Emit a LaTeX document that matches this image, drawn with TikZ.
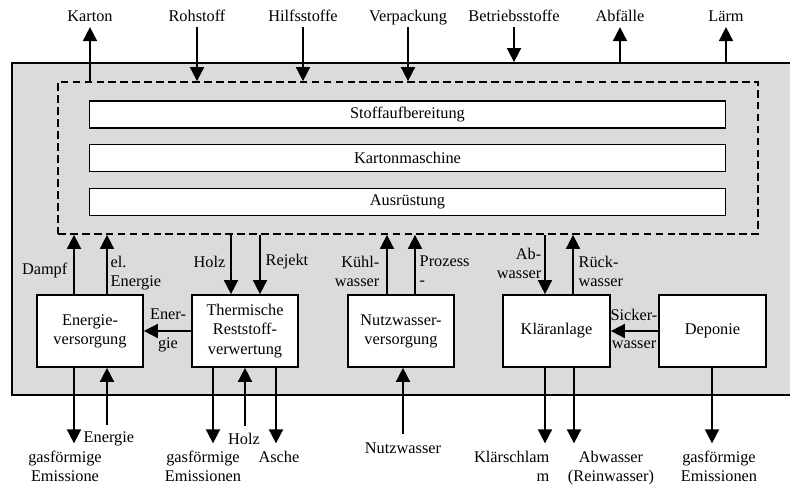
\documentclass[tikz,border=0pt]{standalone}
\usepackage{fontspec}
\setmainfont{Liberation Serif}
\usetikzlibrary{arrows.meta}

\begin{document}
\begin{tikzpicture}[
  x=0.025cm, y=-0.025cm,
  every node/.style={font=\fontsize{11.6}{13.6}\selectfont},
  unit/.style={rectangle, draw, line width=1.2pt, fill=white, minimum width=2.65cm, minimum height=1.8cm, align=center, inner sep=1pt},
  stage/.style={rectangle, draw, line width=1.2pt, fill=white, minimum width=15.9cm, minimum height=0.675cm, inner sep=0pt},
  flow/.style={-{Triangle[width=10pt,length=10pt]}, line width=1.2pt},
  tag/.style={inner sep=1pt, text height=8pt, text depth=2.5pt},
  lbl/.style={inner sep=1pt},
]
  \useasboundingbox (0,0) rectangle (790,487);

  % Betrieb und Werk
  \node[draw, line width=1.2pt, fill=black!14, minimum width=19.5cm, minimum height=8.3cm] (betrieb) at (402,229) {};
  \node[draw, line width=1.2pt, dash pattern=on 5.5pt off 3pt, minimum width=17.5cm, minimum height=3.8cm] (werk) at (408,158) {};

  \node[stage] (stoff) at (407.5,114.5) {Stoffaufbereitung};
  \node[stage] (karma) at (407.5,158) {Kartonmaschine};
  \node[stage] (ausr) at (407.5,202) {Ausrüstung};

  % Nebenanlagen
  \node[unit] (ener) at (90,331) {Energie-\\versorgung};
  \node[unit] (therm) at (245,331) {Thermische\\Reststoff-\\verwertung};
  \node[unit] (nutz) at (401,331) {Nutzwasser-\\versorgung};
  \node[unit, minimum width=2.675cm] (klaer) at (556.5,331) {Kläranlage};
  \node[unit, minimum width=2.675cm] (depo) at (712.5,331) {Deponie};

  % oben
  \node[tag] (lKarton) at (90,18) {Karton};
  \node[tag] (lRoh) at (197,18) {Rohstoff};
  \node[tag] (lHilf) at (303,18) {Hilfsstoffe};
  \node[tag] (lVerp) at (408,18) {Verpackung};
  \node[tag] (lBetr) at (514,18) {Betriebsstoffe};
  \node[tag] (lAbf) at (620,18) {Abfälle};
  \node[tag] (lLaerm) at (726,18) {Lärm};

  \draw[flow] (90,0 |- werk.north) -- (90,0 |- lKarton.south);
  \draw[flow] (197,0 |- lRoh.south) -- (197,0 |- werk.north);
  \draw[flow] (303,0 |- lHilf.south) -- (303,0 |- werk.north);
  \draw[flow] (408,0 |- lVerp.south) -- (408,0 |- werk.north);
  \draw[flow] (514,0 |- lBetr.south) -- (514,0 |- betrieb.north);
  \draw[flow] (620,0 |- betrieb.north) -- (620,0 |- lAbf.south);
  \draw[flow] (726,0 |- betrieb.north) -- (726,0 |- lLaerm.south);

  % Mitte
  \draw[flow] (74,0 |- ener.north) -- (74,0 |- werk.south);
  \draw[flow] (107,0 |- ener.north) -- (107,0 |- werk.south);
  \draw[flow] (231,0 |- werk.south) -- (231,0 |- therm.north);
  \draw[flow] (260,0 |- werk.south) -- (260,0 |- therm.north);
  \draw[flow] (387,0 |- nutz.north) -- (387,0 |- werk.south);
  \draw[flow] (415,0 |- nutz.north) -- (415,0 |- werk.south);
  \draw[flow] (545,0 |- werk.south) -- (545,0 |- klaer.north);
  \draw[flow] (573,0 |- klaer.north) -- (573,0 |- werk.south);
  \draw[flow] (therm.west) -- (ener.east);
  \draw[flow] (depo.west) -- (klaer.east);

  \node[lbl, anchor=east] (lDampf) at (69,270) {Dampf};
  \node[lbl, anchor=west, align=left] (lElEn) at (109,273) {el.\\Energie};
  \node[lbl, anchor=east] (lHolzA) at (227,262) {Holz};
  \node[lbl, anchor=west] (lRejekt) at (264,262) {Rejekt};
  \node[lbl, anchor=east, align=right] (lKuehl) at (381,271) {Kühl-\\wasser};
  \node[lbl, anchor=west, align=left] (lProz) at (418,271) {Prozess\\-};
  \node[lbl, anchor=east, align=right] (lAbwA) at (543,263) {Ab-\\wasser};
  \node[lbl, anchor=west, align=left] (lRueck) at (577,271) {Rück-\\wasser};
  \node[lbl, align=center] (lEner) at (168,330) {Ener-\\[7pt]gie};
  \node[lbl, align=center] (lSicker) at (634,329) {Sicker-\\[6pt]wasser};

  % unten
  \node[lbl, anchor=north, align=center] (lEmiA) at (65,449) {gasförmige\\Emissione};
  \node[lbl, anchor=west] (lEnergieB) at (82,439) {Energie};
  \node[lbl, anchor=north, align=center] (lEmiB) at (203,449) {gasförmige\\Emissionen};
  \node[lbl] (lHolzB) at (244,439) {Holz};
  \node[lbl, anchor=north] (lAsche) at (279,449) {Asche};
  \node[lbl] (lNutz) at (403,448) {Nutzwasser};
  \node[lbl, anchor=north east, align=right] (lSchlamm) at (551,449) {Klärschlam\\m};
  \node[lbl, anchor=north, align=center] (lAbwB) at (611,449) {Abwasser\\(Reinwasser)};
  \node[lbl, anchor=north, align=center] (lEmiC) at (719,449) {gasförmige\\Emissionen};

  \draw[flow, shorten >=4pt] (74,0 |- ener.south) -- (74,0 |- lEmiA.north);
  \draw[flow, shorten <=4pt] (107,0 |- lEnergieB.north) -- (107,0 |- ener.south);
  \draw[flow, shorten >=4pt] (213,0 |- therm.south) -- (213,0 |- lEmiB.north);
  \draw[flow, shorten <=4pt] (245,0 |- lHolzB.north) -- (245,0 |- therm.south);
  \draw[flow, shorten >=4pt] (276,0 |- therm.south) -- (276,0 |- lAsche.north);
  \draw[flow, shorten <=5pt] (403,0 |- lNutz.north) -- (403,0 |- nutz.south);
  \draw[flow, shorten >=4pt] (545,0 |- klaer.south) -- (545,0 |- lSchlamm.north);
  \draw[flow, shorten >=4pt] (574,0 |- klaer.south) -- (574,0 |- lAbwB.north);
  \draw[flow, shorten >=4pt] (712,0 |- depo.south) -- (712,0 |- lEmiC.north);
\end{tikzpicture}
\end{document}
